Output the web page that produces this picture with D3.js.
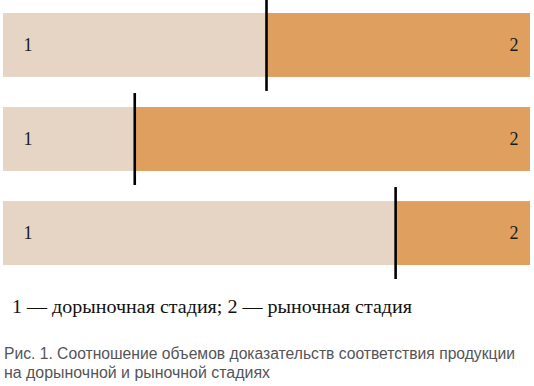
<!DOCTYPE html>
<html>
<head>
<meta charset="utf-8">
<script src="https://cdn.jsdelivr.net/npm/d3@7"></script>
<style>
  html, body { margin: 0; padding: 0; background: #ffffff; }
  svg { display: block; }
</style>
</head>
<body>
<svg id="chart" width="534" height="386"></svg>
<script>
// ---- data ----
const categories = ["A", "B", "C"];
const preMarket = [50, 25, 74.5];   // stage 1 share, %
const market = [50, 75, 25.5];      // stage 2 share, %
const segmentLabels = ["1", "2"];
const legendText = "1 — дорыночная стадия; 2 — рыночная стадия";
const captionLines = [
  "Рис. 1. Соотношение объемов доказательств соответствия продукции",
  "на дорыночной и рыночной стадиях"
];

// ---- layout ----
const svg = d3.select("#chart");
const x = d3.scaleLinear().domain([0, 100]).range([3, 530]);
const y = d3.scaleBand().domain(categories).range([13, 265]).paddingInner(0.32).paddingOuter(0);
const colors = ["#e6d5c4", "#dfa05f"];
const serif = "Liberation Serif, Times New Roman, serif";

const rows = categories.map((c, i) => ({ c, a: preMarket[i], b: market[i] }));

const g = svg.append("g");

g.selectAll("rect.s1").data(rows).join("rect")
  .attr("class", "s1")
  .attr("x", x(0))
  .attr("y", d => y(d.c))
  .attr("width", d => x(d.a) - x(0))
  .attr("height", y.bandwidth())
  .attr("fill", colors[0]);

g.selectAll("rect.s2").data(rows).join("rect")
  .attr("class", "s2")
  .attr("x", d => x(d.a))
  .attr("y", d => y(d.c))
  .attr("width", d => x(d.a + d.b) - x(d.a))
  .attr("height", y.bandwidth())
  .attr("fill", colors[1]);

const ext = 14;
g.selectAll("line.div").data(rows).join("line")
  .attr("class", "div")
  .attr("x1", d => x(d.a)).attr("x2", d => x(d.a))
  .attr("y1", d => y(d.c) - ext)
  .attr("y2", d => y(d.c) + y.bandwidth() + ext)
  .attr("stroke", "#000")
  .attr("stroke-width", 2.6);

g.selectAll("text.l1").data(rows).join("text")
  .attr("class", "l1")
  .attr("x", x(0) + 25)
  .attr("y", d => y(d.c) + y.bandwidth() / 2)
  .attr("dy", "0.35em")
  .attr("text-anchor", "middle")
  .style("font-family", serif)
  .style("font-size", "18px")
  .attr("fill", "#1a1a1a")
  .text(segmentLabels[0]);

g.selectAll("text.l2").data(rows).join("text")
  .attr("class", "l2")
  .attr("x", x(100) - 16)
  .attr("y", d => y(d.c) + y.bandwidth() / 2)
  .attr("dy", "0.35em")
  .attr("text-anchor", "middle")
  .style("font-family", serif)
  .style("font-size", "18px")
  .attr("fill", "#1a1a1a")
  .text(segmentLabels[1]);

svg.append("text")
  .attr("x", 12)
  .attr("y", 313)
  .style("font-family", serif)
  .style("font-size", "18px")
  .attr("fill", "#111")
  .attr("textLength", 400)
  .attr("lengthAdjust", "spacingAndGlyphs")
  .text(legendText);

const capWidths = [511, 266];
captionLines.forEach((t, i) => {
  svg.append("text")
    .attr("x", 4)
    .attr("y", 359 + i * 19)
    .style("font-family", "Liberation Sans, Arial, sans-serif")
    .style("font-size", "16px")
    .attr("fill", "#555557")
    .attr("textLength", capWidths[i])
    .attr("lengthAdjust", "spacingAndGlyphs")
    .text(t);
});
</script>
</body>
</html>
